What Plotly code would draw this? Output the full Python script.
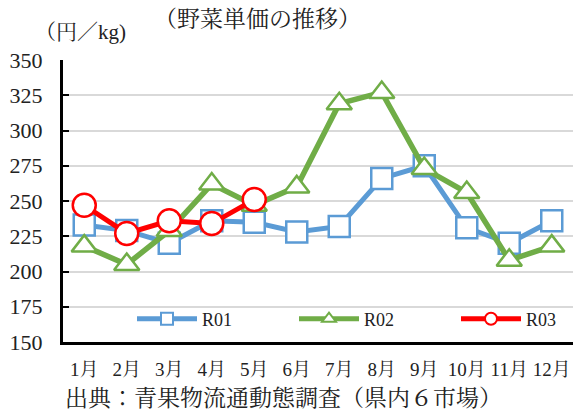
import plotly.graph_objects as go

months = ["1月", "2月", "3月", "4月", "5月", "6月", "7月", "8月", "9月", "10月", "11月", "12月"]
r01 = [233, 229, 220, 236, 235, 228, 232, 266, 275, 231, 220, 236]
r02 = [218, 205, 229, 262, 247, 260, 319, 327, 273, 256, 208, 218]
r03 = [247, 227, 236, 234, 251]
ytick_vals = [150, 175, 200, 225, 250, 275, 300, 325, 350]

SERIF = "Liberation Serif, Noto Serif CJK JP, Noto Sans CJK JP, serif"

L, R, T, B = 63, 1, 60, 72
W, H = 574, 414
pw, ph = W - L - R, H - T - B

def px2paper(px, py):
    return (px - L) / pw, (H - B - py) / ph

fig = go.Figure()
fig.add_trace(go.Scatter(
    x=months, y=r01, name="R01", mode="lines+markers",
    line=dict(color="#5B9BD5", width=5),
    marker=dict(symbol="square", size=21, color="white", line=dict(color="#5B9BD5", width=2.5)),
))
fig.add_trace(go.Scatter(
    x=months, y=r02, name="R02", mode="lines+markers",
    line=dict(color="#70AD47", width=5.5),
    marker=dict(symbol="triangle-up", size=22, color="white", line=dict(color="#70AD47", width=2.5)),
))
fig.add_trace(go.Scatter(
    x=months[:len(r03)], y=r03, name="R03", mode="lines+markers",
    line=dict(color="#FF0000", width=5),
    marker=dict(symbol="circle", size=23, color="white", line=dict(color="#FF0000", width=2.5)),
))

lx, ly = px2paper(132, 319)
annots = []
for text, x, y, size in [
    ("（野菜単価の推移）", 257, 19, 23),
    ("（円／kg)", 80, 32, 21),
    ("出典：青果物流通動態調査（県内６市場）", 283, 398, 23),
]:
    ax, ay = px2paper(x, y)
    annots.append(dict(text=text, x=ax, y=ay, xref="paper", yref="paper",
                       xanchor="center", yanchor="middle", showarrow=False,
                       font=dict(family=SERIF, size=size, color="#222")))

fig.update_layout(
    width=W, height=H,
    margin=dict(l=L, r=R, t=T, b=B, autoexpand=False),
    paper_bgcolor="white", plot_bgcolor="white",
    showlegend=True,
    legend=dict(
        orientation="h", x=lx, y=ly, xanchor="left", yanchor="middle",
        entrywidth=87, entrywidthmode="pixels", itemwidth=60, itemsizing="constant",
        font=dict(family=SERIF, size=18, color="#222"),
        bgcolor="rgba(0,0,0,0)",
    ),
    xaxis=dict(
        type="category", range=[-0.5, 11.5],
        showline=True, linecolor="black", linewidth=3,
        showgrid=False, ticks="", ticklabelstandoff=8,
        tickfont=dict(family=SERIF, size=19, color="#222"),
    ),
    yaxis=dict(
        range=[150, 350], tickvals=ytick_vals,
        showline=True, linecolor="black", linewidth=3,
        showgrid=True, gridcolor="#D9D9D9", gridwidth=2,
        ticks="inside", ticklen=6, tickwidth=2, tickcolor="black",
        ticklabelstandoff=13,
        tickfont=dict(family=SERIF, size=22, color="#222"),
        zeroline=False,
    ),
    annotations=annots,
)

fig.write_html("out.html", config={"displayModeBar": False},
               post_script="document.body.style.margin='0';document.body.style.overflow='hidden';")
